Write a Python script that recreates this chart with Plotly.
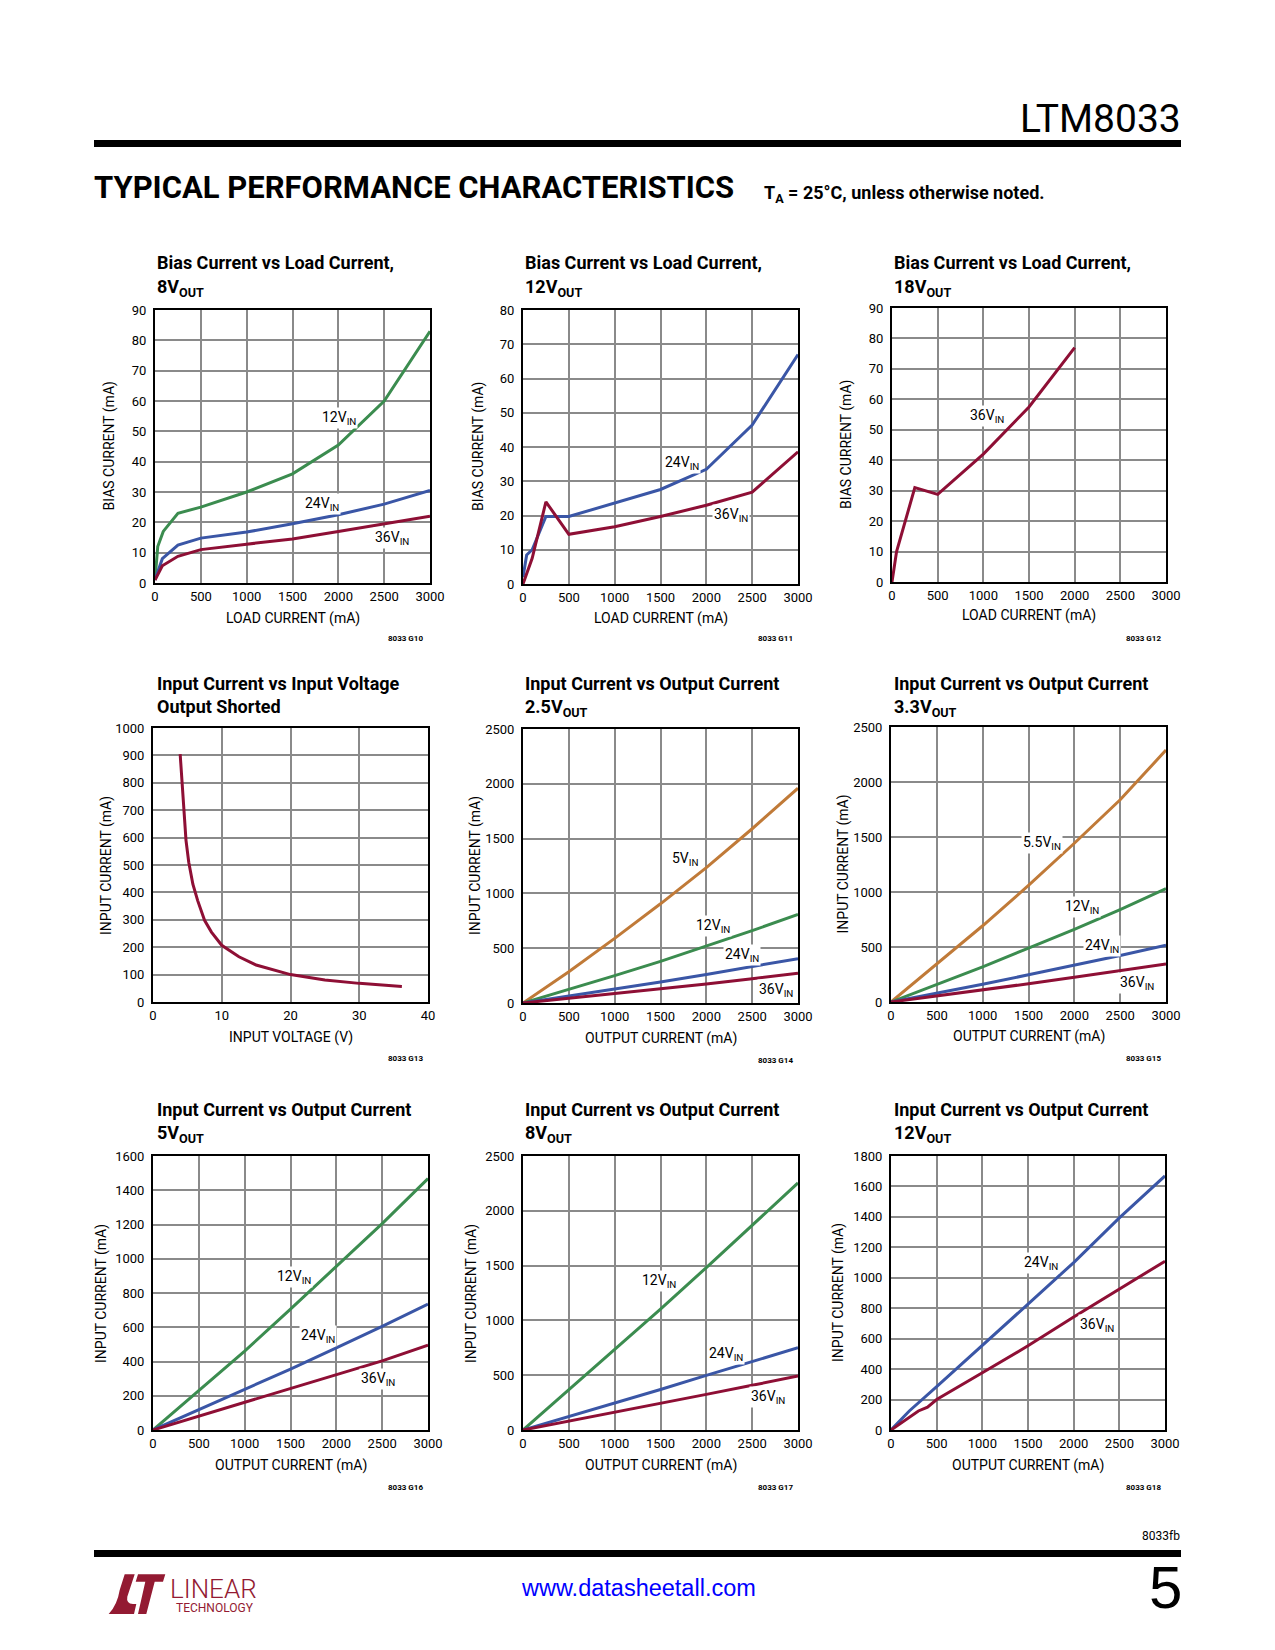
import plotly.graph_objects as go

W, H = 1275, 1650

GREEN = "#3b8c4f"
BLUE = "#3a56a6"
RED = "#8e0f35"
ORANGE = "#c07a38"
LOGO = "#931a32"

FONT = "Roboto, Liberation Sans, sans-serif"
SANS = "Liberation Sans, Arial, sans-serif"

# ---------------- data ----------------
# G10: bias current vs load current, 8VOUT
g10_x_12 = [0, 30, 90, 250, 500, 1000, 1500, 2000, 2500, 3000]
g10_y_12 = [1, 12, 17, 23, 25, 30, 36, 45.5, 60, 83]
g10_x_24 = [0, 80, 250, 500, 1000, 1500, 2000, 2500, 3000]
g10_y_24 = [1, 8, 12.5, 14.8, 16.8, 19.5, 22.5, 26, 30.5]
g10_x_36 = [0, 80, 250, 500, 1000, 1500, 2000, 2500, 3000]
g10_y_36 = [1, 5.7, 8.8, 11, 12.8, 14.5, 17, 19.5, 22]

# G11: bias current vs load current, 12VOUT
g11_x_24 = [0, 40, 100, 250, 500, 1000, 1500, 2000, 2500, 3000]
g11_y_24 = [2, 8.5, 10, 19.7, 19.7, 23.6, 27.6, 33.5, 46.4, 67]
g11_x_36 = [0, 100, 250, 500, 1000, 1500, 2000, 2500, 3000]
g11_y_36 = [0, 7.5, 24, 14.5, 16.7, 19.7, 23, 26.8, 38.6]

# G12: bias current vs load current, 18VOUT
g12_x_36 = [0, 50, 250, 500, 1000, 1500, 2000]
g12_y_36 = [0, 10, 31, 28.8, 42, 57.5, 77]

# G13: input current vs input voltage, output shorted
g13_v = [3.95, 4.3, 4.8, 5.2, 5.8, 6.5, 7.5, 8.5, 10, 12.5, 15, 20, 25, 30, 36.2]
g13_i = [905, 790, 590, 510, 430, 370, 298, 255, 207, 165, 135, 100, 80, 68, 57]

# output current axis common to G14..G18
iout = [0, 500, 1000, 1500, 2000, 2500, 3000]

# G14: 2.5VOUT
g14_5 = [0, 285, 590, 905, 1235, 1590, 1960]
g14_12 = [0, 123, 250, 380, 517, 660, 808]
g14_24 = [0, 62, 125, 192, 260, 330, 405]
g14_36 = [0, 42, 85, 128, 173, 222, 272]

# G15: 3.3VOUT
g15_55 = [0, 343, 693, 1060, 1443, 1838, 2290]
g15_12 = [0, 158, 320, 490, 660, 840, 1030]
g15_24 = [0, 80, 162, 247, 332, 422, 516]
g15_36 = [0, 54, 110, 166, 225, 285, 346]

# G16: 5VOUT
g16_12 = [0, 229, 461, 706, 956, 1205, 1468]
g16_24 = [0, 118, 239, 356, 480, 605, 735]
g16_36 = [0, 80, 161, 243, 321, 404, 496]

# G17: 8VOUT
g17_12 = [0, 365, 729, 1103, 1482, 1866, 2254]
g17_24 = [0, 122, 247, 370, 498, 622, 750]
g17_36 = [0, 80, 161, 243, 325, 408, 492]

# G18: 12VOUT
g18_x_24 = [0, 200, 500, 1000, 1500, 2000, 2500, 3000]
g18_y_24 = [0, 125, 285, 553, 827, 1100, 1393, 1669]
g18_x_36 = [0, 150, 300, 400, 500, 1000, 1500, 2000, 2500, 3000]
g18_y_36 = [0, 65, 125, 150, 200, 376, 553, 742, 925, 1109]


def VIN(v):
    return f"{v}V<sub>IN</sub>"


panels = [
    dict(box=(155, 310, 430, 583), xr=[0, 3000], xd=500, yr=[0, 90], yd=10,
         t1="Bias Current vs Load Current,", t2="8V<sub>OUT</sub>", tx=155, ty=(262, 288),
         xt="LOAD CURRENT (mA)", xty=618, yt="BIAS CURRENT (mA)", ytx=109, fn="8033 G10", fnx=425, fny=638,
         series=[(g10_x_12, g10_y_12, GREEN), (g10_x_24, g10_y_24, BLUE), (g10_x_36, g10_y_36, RED)],
         labels=[(VIN(12), 2011, 54.3), (VIN(24), 1818, 26.1), (VIN(36), 2582, 15)]),
    dict(box=(523, 310, 798, 584), xr=[0, 3000], xd=500, yr=[0, 80], yd=10,
         t1="Bias Current vs Load Current,", t2="12V<sub>OUT</sub>", tx=523, ty=(262, 288),
         xt="LOAD CURRENT (mA)", xty=618, yt="BIAS CURRENT (mA)", ytx=478, fn="8033 G11", fnx=795, fny=638,
         series=[(g11_x_24, g11_y_24, BLUE), (g11_x_36, g11_y_36, RED)],
         labels=[(VIN(24), 1738, 35.4), (VIN(36), 2265, 20.1)]),
    dict(box=(892, 308, 1166, 582), xr=[0, 3000], xd=500, yr=[0, 90], yd=10,
         t1="Bias Current vs Load Current,", t2="18V<sub>OUT</sub>", tx=892, ty=(262, 288),
         xt="LOAD CURRENT (mA)", xty=616, yt="BIAS CURRENT (mA)", ytx=846, fn="8033 G12", fnx=1163, fny=638,
         series=[(g12_x_36, g12_y_36, RED)],
         labels=[(VIN(36), 1039, 54.5)]),
    dict(box=(153, 728, 428, 1002), xr=[0, 40], xd=10, yr=[0, 1000], yd=100,
         t1="Input Current vs Input Voltage", t2="Output Shorted", tx=155, ty=(683, 706),
         xt="INPUT VOLTAGE (V)", xty=1037, yt="INPUT CURRENT (mA)", ytx=106, fn="8033 G13", fnx=425, fny=1058,
         series=[(g13_v, g13_i, RED)],
         labels=[]),
    dict(box=(523, 729, 798, 1003), xr=[0, 3000], xd=500, yr=[0, 2500], yd=500,
         t1="Input Current vs Output Current", t2="2.5V<sub>OUT</sub>", tx=523, ty=(683, 708),
         xt="OUTPUT CURRENT (mA)", xty=1038, yt="INPUT CURRENT (mA)", ytx=475, fn="8033 G14", fnx=795, fny=1060,
         series=[(iout, g14_5, ORANGE), (iout, g14_12, GREEN), (iout, g14_24, BLUE), (iout, g14_36, RED)],
         labels=[(VIN(5), 1764, 1314), (VIN(12), 2073, 700), (VIN(24), 2393, 441), (VIN(36), 2756, 116)]),
    dict(box=(891, 727, 1166, 1002), xr=[0, 3000], xd=500, yr=[0, 2500], yd=500,
         t1="Input Current vs Output Current", t2="3.3V<sub>OUT</sub>", tx=892, ty=(683, 708),
         xt="OUTPUT CURRENT (mA)", xty=1036, yt="INPUT CURRENT (mA)", ytx=843, fn="8033 G15", fnx=1163, fny=1058,
         series=[(iout, g15_55, ORANGE), (iout, g15_12, GREEN), (iout, g15_24, BLUE), (iout, g15_36, RED)],
         labels=[(VIN(5.5), 1645, 1449), (VIN(12), 2082, 866), (VIN(24), 2300, 507), (VIN(36), 2683, 176)]),
    dict(box=(153, 1156, 428, 1430), xr=[0, 3000], xd=500, yr=[0, 1600], yd=200,
         t1="Input Current vs Output Current", t2="5V<sub>OUT</sub>", tx=155, ty=(1109, 1134),
         xt="OUTPUT CURRENT (mA)", xty=1465, yt="INPUT CURRENT (mA)", ytx=101, fn="8033 G16", fnx=425, fny=1487,
         series=[(iout, g16_12, GREEN), (iout, g16_24, BLUE), (iout, g16_36, RED)],
         labels=[(VIN(12), 1535, 894), (VIN(24), 1800, 548), (VIN(36), 2455, 297)]),
    dict(box=(523, 1156, 798, 1430), xr=[0, 3000], xd=500, yr=[0, 2500], yd=500,
         t1="Input Current vs Output Current", t2="8V<sub>OUT</sub>", tx=523, ty=(1109, 1134),
         xt="OUTPUT CURRENT (mA)", xty=1465, yt="INPUT CURRENT (mA)", ytx=471, fn="8033 G17", fnx=795, fny=1487,
         series=[(iout, g17_12, GREEN), (iout, g17_24, BLUE), (iout, g17_36, RED)],
         labels=[(VIN(12), 1480, 1361), (VIN(24), 2218, 693), (VIN(36), 2673, 304)]),
    dict(box=(891, 1156, 1165, 1430), xr=[0, 3000], xd=500, yr=[0, 1800], yd=200,
         t1="Input Current vs Output Current", t2="12V<sub>OUT</sub>", tx=892, ty=(1109, 1134),
         xt="OUTPUT CURRENT (mA)", xty=1465, yt="INPUT CURRENT (mA)", ytx=838, fn="8033 G18", fnx=1163, fny=1487,
         series=[(g18_x_24, g18_y_24, BLUE), (g18_x_36, g18_y_36, RED)],
         labels=[(VIN(24), 1639, 1098), (VIN(36), 2259, 693)]),
]


def px(x):
    return x / W


def py(y):
    return 1 - y / H


fig = go.Figure()
layout = dict(
    width=W, height=H, autosize=False,
    margin=dict(l=0, r=0, t=0, b=0, pad=0),
    paper_bgcolor="white", plot_bgcolor="white",
    showlegend=False,
)
annotations = []
shapes = []


def text(t, x, y, size, xanchor="left", family=FONT, color="black", weight=None, angle=0):
    f = dict(family=family, size=size, color=color)
    if weight:
        f["weight"] = weight
    annotations.append(dict(text=t, x=px(x), y=py(y), xref="paper", yref="paper",
                            xanchor=xanchor, yanchor="middle", showarrow=False,
                            textangle=angle, font=f))


for i, p in enumerate(panels, start=1):
    l, t, r, b = p["box"]
    sx = "" if i == 1 else str(i)
    axis_common = dict(
        showgrid=True, gridcolor="#8a8a8a", gridwidth=1.5,
        showline=True, linecolor="black", linewidth=2, mirror=True,
        zeroline=False, ticks="", tick0=0, fixedrange=True, automargin=False,
        tickfont=dict(family=FONT, size=13, color="black"),
    )
    layout["xaxis" + sx] = dict(axis_common, domain=[px(l), px(r)], range=p["xr"], dtick=p["xd"],
                                anchor="y" + sx)
    layout["yaxis" + sx] = dict(axis_common, domain=[py(b), py(t)], range=p["yr"], dtick=p["yd"],
                                anchor="x" + sx, ticklabelstandoff=4)
    for xs, ys, col in p["series"]:
        fig.add_trace(go.Scatter(x=xs, y=ys, mode="lines", line=dict(color=col, width=3),
                                 xaxis="x" + sx, yaxis="y" + sx, hoverinfo="skip"))
    for txt, lx, ly in p["labels"]:
        annotations.append(dict(text=txt, x=lx, y=ly, xref="x" + sx, yref="y" + sx, showarrow=False,
                                font=dict(family=FONT, size=14, color="black"),
                                bgcolor="white", borderpad=1, xanchor="center", yanchor="middle"))
    text("<b>" + p["t1"] + "</b>", p["tx"], p["ty"][0], 18)
    text("<b>" + p["t2"] + "</b>", p["tx"], p["ty"][1], 18)
    text(p["xt"], (l + r) / 2, p["xty"], 14, xanchor="center")
    text(p["yt"], p["ytx"], (t + b) / 2, 14, xanchor="center", angle=-90)
    text("<b>" + p["fn"] + "</b>", p["fnx"], p["fny"], 8, xanchor="right")

# ---------------- page decoration ----------------
text("LTM8033", 1183, 119, 39, xanchor="right")
text("<b>TYPICAL PERFORMANCE CHARACTERISTICS</b>", 92, 188, 31)
text("<b>T<sub>A</sub> = 25°C, unless otherwise noted.</b>", 762, 194, 18)
text("8033fb", 1182, 1536, 12, xanchor="right")
text("www.datasheetall.com", 638, 1588, 23.5, xanchor="center", family=SANS, color="#0000ff")
text("5", 1184, 1587, 60, xanchor="right", family=SANS)
text("LINEAR", 168, 1589, 26, weight=300, color=LOGO)
text("TECHNOLOGY", 174, 1608, 12, color=LOGO)

# thick rules
for y0, y1 in [(140, 147), (1550, 1557)]:
    shapes.append(dict(type="rect", xref="paper", yref="paper", x0=px(94), x1=px(1181),
                       y0=py(y1), y1=py(y0), fillcolor="black", line=dict(width=0)))


def path(pts):
    out = []
    for cmd, coords in pts:
        out.append(cmd + " " + " ".join(f"{px(a):.5f},{py(b):.5f}" for a, b in coords))
    return " ".join(out) + " Z"


logo_L = path([("M", [(124.7, 1574.3)]), ("L", [(134.7, 1574.3)]), ("L", [(127.3, 1596.7)]),
               ("Q", [(126.0, 1603.5), (133, 1604)]), ("L", [(136.3, 1604)]), ("L", [(134, 1614)]),
               ("L", [(108.7, 1614)]), ("Q", [(117.3, 1605), (119.7, 1590)])])
logo_T = path([("M", [(138, 1574.3)]), ("L", [(165.3, 1574.3)]), ("L", [(163, 1581.7)]),
               ("L", [(154.7, 1581.7)]), ("L", [(146.3, 1614)]), ("L", [(138, 1614)]),
               ("L", [(145.3, 1581.7)]), ("L", [(135.7, 1581.7)])])
for pth in (logo_L, logo_T):
    shapes.append(dict(type="path", xref="paper", yref="paper", path=pth, fillcolor=LOGO,
                       line=dict(width=0)))

layout["annotations"] = annotations
layout["shapes"] = shapes
fig.update_layout(**layout)
fig.write_html("out.html", post_script="document.body.style.margin='0';")
